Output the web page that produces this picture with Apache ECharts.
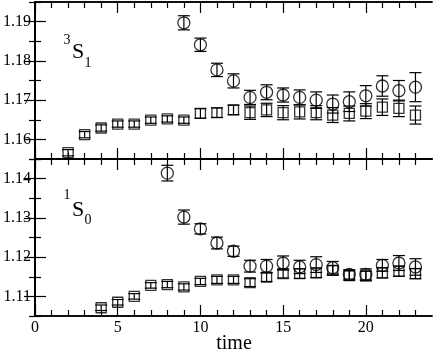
<!DOCTYPE html>
<html>
<head>
<meta charset="utf-8">
<script src="https://cdn.jsdelivr.net/npm/echarts@6/dist/echarts.min.js"></script>
<style>
  html, body { margin: 0; padding: 0; background: #fff; }
  #chart { width: 436px; height: 354px; }
</style>
</head>
<body>
<div id="chart"></div>
<script>
// ---- data ----
// 3S1 panel (top)
const s1CircT = [9, 10, 11, 12, 13, 14, 15, 16, 17, 18, 19, 20, 21, 22, 23];
const s1Circ = [1.1897, 1.1841, 1.1777, 1.1749, 1.1707, 1.1720, 1.1713, 1.1707, 1.1700, 1.1690, 1.1696, 1.1711, 1.1736, 1.1724, 1.1733];
const s1CircErr = [0.0018, 0.0017, 0.0017, 0.0018, 0.0018, 0.0019, 0.0018, 0.0019, 0.0021, 0.0023, 0.0025, 0.0026, 0.0026, 0.0026, 0.0037];
const s1SqT = [2, 3, 4, 5, 6, 7, 8, 9, 10, 11, 12, 13, 14, 15, 16, 17, 18, 19, 20, 21, 22, 23];
const s1Sq = [1.1566, 1.1612, 1.1629, 1.1639, 1.1639, 1.1649, 1.1652, 1.1649, 1.1666, 1.1668, 1.1675, 1.1668, 1.1675, 1.1668, 1.1670, 1.1668, 1.1662, 1.1666, 1.1672, 1.1682, 1.1679, 1.1662];
const s1SqErr = [0.0008, 0.0008, 0.0008, 0.0008, 0.0008, 0.0008, 0.0008, 0.0008, 0.0012, 0.0012, 0.0012, 0.0017, 0.0017, 0.0018, 0.0018, 0.0018, 0.0019, 0.0019, 0.0019, 0.0021, 0.0021, 0.0023];
// 1S0 panel (bottom)
const s0CircT = [8, 9, 10, 11, 12, 13, 14, 15, 16, 17, 18, 19, 20, 21, 22, 23];
const s0Circ = [1.1414, 1.1302, 1.1272, 1.1236, 1.1215, 1.1177, 1.1177, 1.1185, 1.1175, 1.1181, 1.1173, 1.1156, 1.1156, 1.1179, 1.1185, 1.1175];
const s0CircErr = [0.0020, 0.0018, 0.0013, 0.0015, 0.0013, 0.0015, 0.0017, 0.0018, 0.0017, 0.0020, 0.0016, 0.0012, 0.0014, 0.0015, 0.0019, 0.0021];
const s0SqT = [4, 5, 6, 7, 8, 9, 10, 11, 12, 13, 14, 15, 16, 17, 18, 19, 20, 21, 22, 23];
const s0Sq = [1.1071, 1.1085, 1.1100, 1.1128, 1.1130, 1.1124, 1.1138, 1.1142, 1.1142, 1.1135, 1.1149, 1.1158, 1.1158, 1.1160, 1.1166, 1.1153, 1.1152, 1.1160, 1.1164, 1.1158];
const s0SqErr = [0.0007, 0.0007, 0.0007, 0.0007, 0.0008, 0.0008, 0.0008, 0.0009, 0.0009, 0.0010, 0.0011, 0.0011, 0.0012, 0.0012, 0.0012, 0.0012, 0.0012, 0.0013, 0.0013, 0.0013];

// ticks
const xMajor = [0, 5, 10, 15, 20];
const xMinor = [1, 2, 3, 4, 6, 7, 8, 9, 11, 12, 13, 14, 16, 17, 18, 19, 21, 22, 23];
const topMajor = [1.16, 1.17, 1.18, 1.19];
const topMinor = [1.155, 1.165, 1.175, 1.185, 1.195];
const botMajor = [1.11, 1.12, 1.13, 1.14];
const botMinor = [1.105, 1.115, 1.125, 1.135, 1.145];

const font = 'Liberation Serif';
const black = '#000';

function zip(ts, vs, es) {
  return ts.map((t, i) => [t, vs[i], es[i]]);
}

function xAx(grid, pos, ticks, len, labels) {
  return {
    type: 'value', gridIndex: grid, position: pos, min: 0, max: 24,
    axisLine: { show: true, lineStyle: { color: black, width: 1.5 } },
    axisTick: { show: true, inside: true, length: len, customValues: ticks, lineStyle: { color: black, width: 1.2 } },
    axisLabel: { show: labels, customValues: ticks, color: black, fontFamily: font, fontSize: 16, margin: 4 },
    splitLine: { show: false }
  };
}

function yAx(grid, pos, min, max, ticks, len, labels) {
  return {
    type: 'value', gridIndex: grid, position: pos, min: min, max: max,
    axisLine: { show: true, lineStyle: { color: black, width: 1.5 } },
    axisTick: { show: true, inside: true, length: len, customValues: ticks, lineStyle: { color: black, width: 1.2 } },
    axisLabel: { show: labels, customValues: ticks, color: black, fontFamily: font, fontSize: 16, margin: 4,
      formatter: v => v.toFixed(2) },
    splitLine: { show: false }
  };
}

function errRender(params, api) {
  const x = api.value(0), y = api.value(1), e = api.value(2);
  const hi = api.coord([x, y + e]);
  const lo = api.coord([x, y - e]);
  const w = 6;
  const st = { stroke: black, lineWidth: 1.2 };
  return {
    type: 'group',
    children: [
      { type: 'line', shape: { x1: hi[0], y1: hi[1], x2: lo[0], y2: lo[1] }, style: st },
      { type: 'line', shape: { x1: hi[0] - w, y1: hi[1], x2: hi[0] + w, y2: hi[1] }, style: st },
      { type: 'line', shape: { x1: lo[0] - w, y1: lo[1], x2: lo[0] + w, y2: lo[1] }, style: st }
    ]
  };
}

function errSeries(data, ax) {
  return { type: 'custom', xAxisIndex: ax, yAxisIndex: ax, data: data, renderItem: errRender, silent: true, z: 2 };
}

function markSeries(data, ax, sym, size) {
  return {
    type: 'scatter', xAxisIndex: ax, yAxisIndex: ax, data: data.map(d => [d[0], d[1]]),
    symbol: sym, symbolSize: size, silent: true, z: 3,
    itemStyle: { color: 'transparent', borderColor: black, borderWidth: 1.3 }
  };
}

function txt(x, y, s, size) {
  return { type: 'text', x: x, y: y, style: { text: s, fontFamily: font, fontSize: size, fill: black, align: 'center', verticalAlign: 'middle' } };
}

const top1 = zip(s1CircT, s1Circ, s1CircErr);
const top2 = zip(s1SqT, s1Sq, s1SqErr);
const bot1 = zip(s0CircT, s0Circ, s0CircErr);
const bot2 = zip(s0SqT, s0Sq, s0SqErr);

const chart = echarts.init(document.getElementById('chart'), null, { renderer: 'canvas' });
chart.setOption({
  animation: false,
  backgroundColor: '#fff',
  grid: [
    { left: 35, right: 4, top: 2, height: 157 },
    { left: 35, right: 4, top: 159, height: 157 }
  ],
  xAxis: [
    xAx(0, 'bottom', xMajor, 11, false),
    xAx(0, 'bottom', xMinor, 6, false),
    xAx(0, 'top', xMajor, 11, false),
    xAx(0, 'top', xMinor, 6, false),
    xAx(1, 'bottom', xMajor, 11, true),
    xAx(1, 'bottom', xMinor, 6, false),
    xAx(1, 'top', xMajor, 11, false),
    xAx(1, 'top', xMinor, 6, false)
  ],
  yAxis: [
    yAx(0, 'left', 1.155, 1.195, topMajor, 11, true),
    yAx(0, 'left', 1.155, 1.195, topMinor, 6, false),
    yAx(0, 'right', 1.155, 1.195, topMajor, 11, false),
    yAx(0, 'right', 1.155, 1.195, topMinor, 6, false),
    yAx(1, 'left', 1.105, 1.145, botMajor, 11, true),
    yAx(1, 'left', 1.105, 1.145, botMinor, 6, false),
    yAx(1, 'right', 1.105, 1.145, botMajor, 11, false),
    yAx(1, 'right', 1.105, 1.145, botMinor, 6, false)
  ],
  series: [
    errSeries(top1, 0), markSeries(top1, 0, 'circle', 12),
    errSeries(top2, 0), markSeries(top2, 0, 'rect', 10),
    errSeries(bot1, 4), markSeries(bot1, 4, 'circle', 12),
    errSeries(bot2, 4), markSeries(bot2, 4, 'rect', 10)
  ],
  graphic: [
    txt(67, 40, '3', 14),
    txt(78, 52, 'S', 22),
    txt(88, 63, '1', 14),
    txt(67, 195, '1', 14),
    txt(78, 210, 'S', 22),
    txt(88, 220, '0', 14),
    txt(234, 344, 'time', 20)
  ]
});
</script>
</body>
</html>
